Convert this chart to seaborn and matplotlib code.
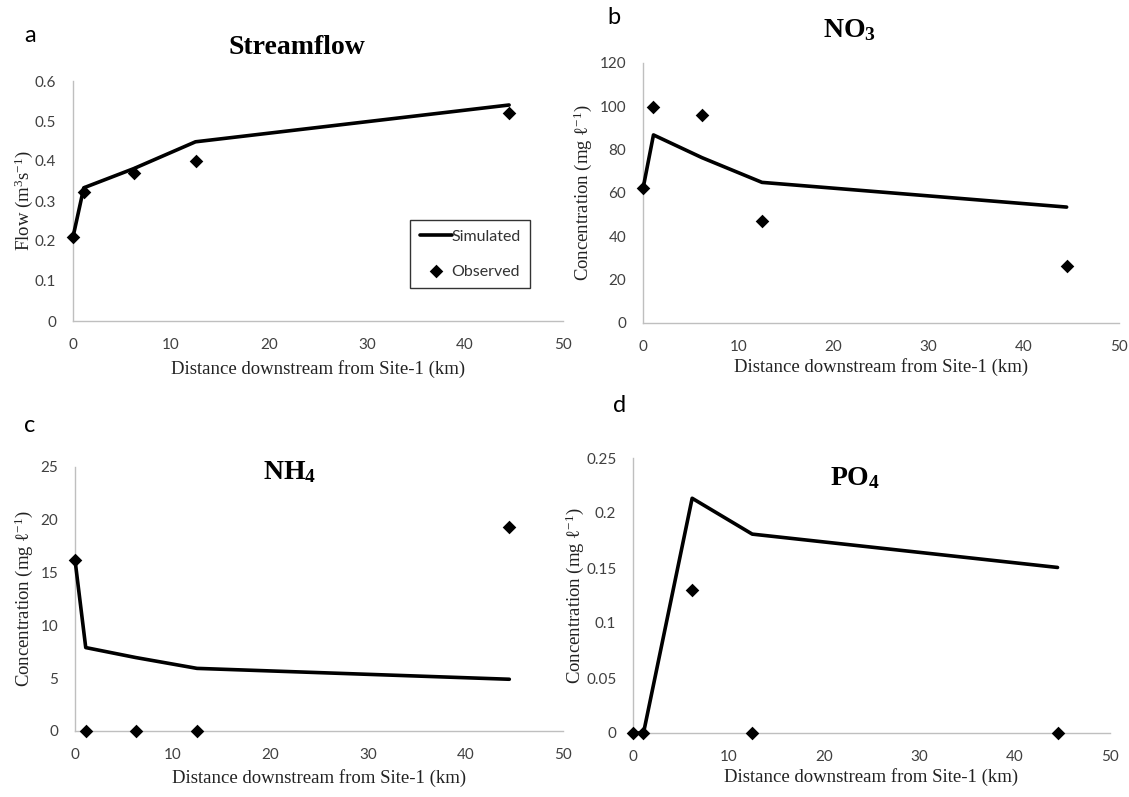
import matplotlib
matplotlib.use("Agg")
import matplotlib.pyplot as plt
import seaborn as sns

# Distance downstream from Site-1 (km)
distance_km = [0.0, 1.1, 6.2, 12.5, 44.5]

# Streamflow (m3/s)
flow_sim = [0.21, 0.333, 0.381, 0.448, 0.54]
flow_obs = [0.21, 0.322, 0.37, 0.40, 0.52]

# NO3 (mg/l)
no3_sim = [62.0, 86.8, 76.3, 64.9, 53.5]
no3_obs = [62.1, 99.5, 95.8, 47.3, 26.2]

# NH4 (mg/l)
nh4_sim = [16.2, 7.9, 6.96, 5.93, 4.9]
nh4_obs = [16.2, 0.0, 0.0, 0.0, 19.3]

# PO4 (mg/l)
po4_sim = [0.0, 0.0, 0.2134, 0.1808, 0.1505]
po4_obs = [0.0, 0.0, 0.130, 0.0, 0.0]

x_ticks = [0, 10, 20, 30, 40, 50]
titles = ["Streamflow", r"$\mathbf{NO_3}$", r"$\mathbf{NH_4}$", r"$\mathbf{PO_4}$"]
panel_letters = ["a", "b", "c", "d"]
y_labels = [r"Flow (m$^3$s$^{-1}$)", "Concentration (mg ℓ$^{-1}$)",
            "Concentration (mg ℓ$^{-1}$)", "Concentration (mg ℓ$^{-1}$)"]
x_label = "Distance downstream from Site-1 (km)"

sns.set_theme(style="white")
plt.rcParams["font.family"] = ["Lato", "DejaVu Sans"]
plt.rcParams["mathtext.fontset"] = "custom"
plt.rcParams["mathtext.rm"] = "Liberation Serif"
plt.rcParams["mathtext.it"] = "Liberation Serif"
plt.rcParams["mathtext.bf"] = "Liberation Serif:bold"

fig = plt.figure(figsize=(11.29, 7.97), dpi=100)

W, H = 1129, 797


def axes_px(l, r, t, b):
    return fig.add_axes([l / W, 1 - b / H, (r - l) / W, (b - t) / H])


panels = [
    dict(rect=(73, 563, 81, 321), sim=flow_sim, obs=flow_obs, ylim=(0, 0.6),
         yticks=[0, 0.1, 0.2, 0.3, 0.4, 0.5, 0.6],
         yfmt=lambda v: "0" if v == 0 else f"{v:.1f}",
         title_xy=(297, 47), letter_xy=(30, 35), xlab_pad=6, ylab_pad=0),
    dict(rect=(643, 1119, 63, 323), sim=no3_sim, obs=no3_obs, ylim=(0, 120),
         yticks=[0, 20, 40, 60, 80, 100, 120], yfmt=lambda v: f"{v:d}",
         title_xy=(849, 30), letter_xy=(614, 17), xlab_pad=3, ylab_pad=4),
    dict(rect=(75, 563, 467, 731), sim=nh4_sim, obs=nh4_obs, ylim=(0, 25),
         yticks=[0, 5, 10, 15, 20, 25], yfmt=lambda v: f"{v:d}",
         title_xy=(290, 472), letter_xy=(30, 425), xlab_pad=5, ylab_pad=4),
    dict(rect=(633, 1110, 458, 733), sim=po4_sim, obs=po4_obs, ylim=(0, 0.25),
         yticks=[0, 0.05, 0.1, 0.15, 0.2, 0.25],
         yfmt=lambda v: "0" if v == 0 else f"{v:g}",
         title_xy=(855, 478), letter_xy=(620, 405), xlab_pad=3, ylab_pad=0),
]

for i, p in enumerate(panels):
    ax = axes_px(*p["rect"])
    sns.lineplot(x=distance_km, y=p["sim"], ax=ax, color="black", linewidth=2.6,
                 label="Simulated", clip_on=False, zorder=3)
    sns.scatterplot(x=distance_km, y=p["obs"], ax=ax, color="black", marker="D",
                    s=48, edgecolor="black", linewidth=0, label="Observed",
                    clip_on=False, zorder=4)
    ax.set_xlim(0, 50)
    ax.set_ylim(*p["ylim"])
    ax.set_xticks(x_ticks)
    ax.set_xticklabels([str(t) for t in x_ticks])
    ax.set_yticks(p["yticks"])
    ax.set_yticklabels([p["yfmt"](v) for v in p["yticks"]])
    ax.tick_params(axis="both", length=0, labelsize=11, labelcolor="#404040", pad=12)
    for side in ("top", "right"):
        ax.spines[side].set_visible(False)
    for side in ("left", "bottom"):
        ax.spines[side].set_color("#bfbfbf")
        ax.spines[side].set_linewidth(1.0)
    ax.set_xlabel(x_label, fontsize=13.5, family="Liberation Serif",
                  color="#222222", labelpad=p["xlab_pad"])
    ax.set_ylabel(y_labels[i], fontsize=13.5, family=["Liberation Serif", "DejaVu Serif"],
                  color="#222222", labelpad=p["ylab_pad"])
    fig.text(p["title_xy"][0] / W, 1 - p["title_xy"][1] / H, titles[i],
             fontsize=20, fontweight="bold", family="Liberation Serif",
             ha="center", va="center", color="black")
    fig.text(p["letter_xy"][0] / W, 1 - p["letter_xy"][1] / H, panel_letters[i],
             fontsize=17, ha="center", va="center", color="black")
    if i == 0:
        leg = ax.legend(loc="upper left", bbox_to_anchor=(0.688, 0.421),
                        borderaxespad=0, frameon=True, fancybox=False,
                        edgecolor="black", fontsize=11.5, handlelength=2.0,
                        handletextpad=0.0, borderpad=0.6, labelspacing=1.3)
        leg.get_frame().set_linewidth(1.0)
        for t in leg.get_texts():
            t.set_color("#333333")
    else:
        ax.get_legend().remove()

fig.savefig("out.png", dpi=100, facecolor="white")
